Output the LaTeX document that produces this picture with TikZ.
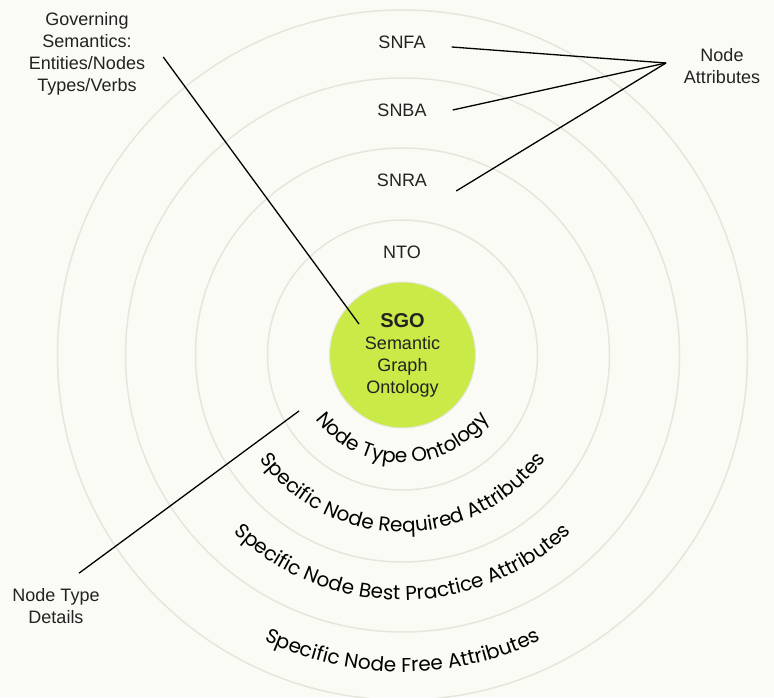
\documentclass[tikz,border=0pt]{standalone}
\usepackage{fontspec}
\setmainfont{Liberation Sans}
\newfontfamily\curvefont{Poppins}
\usetikzlibrary{calc,decorations.text}
\definecolor{paper}{HTML}{FBFBF5}
\definecolor{ringgray}{HTML}{E6E6DE}
\definecolor{limegreen}{HTML}{C9EA47}
\definecolor{inkgray}{HTML}{222222}

\begin{document}
\begin{tikzpicture}[x=1pt, y=1pt,
  ring/.style={draw=ringgray, line width=1.5pt},
  lbl/.style={font=\fontsize{18}{22}\selectfont, text=inkgray, align=center, inner sep=0pt},
  lead/.style={line width=1.3pt, black},
  arctext/.style={decorate, decoration={text along path, text align=center, text={#1}}}]
\fill[paper] (0,0) rectangle (774,697);
\useasboundingbox (0,0) rectangle (774,697);
\coordinate (c) at (402.5,342);
\draw[ring] (c) circle (135pt);
\draw[ring] (c) circle (207pt);
\draw[ring] (c) circle (277pt);
\draw[ring] (c) circle (345pt);
\node[circle, fill=limegreen, draw=ringgray, line width=1pt, minimum size=146pt, inner sep=0pt, lbl] (sgo) at (c) {{\fontsize{20}{22}\selectfont\bfseries SGO}\\Semantic\\Graph\\Ontology};
\node[lbl] (snfa) at (402,655) {SNFA};
\node[lbl] (snba) at (402,587) {SNBA};
\node[lbl] (snra) at (402,517) {SNRA};
\node[lbl] (nto) at (402,445) {NTO};
\node[lbl] (gov) at (87,643) {Governing\\Semantics:\\Entities/Nodes\\Types/Verbs};
\node[lbl] (natt) at (722,631) {Node\\Attributes};
\node[lbl] (ntd) at (56,91) {Node Type\\Details};
\path[arctext={|\curvefont\fontsize{20}{20}\selectfont|Node Type Ontology}] ($(c)+(190:108pt)$) arc[start angle=190, end angle=350, radius=108pt];
\path[arctext={|\curvefont\fontsize{20}{20}\selectfont|Specific Node Required Attributes}] ($(c)+(200:177pt)$) arc[start angle=200, end angle=340, radius=177pt];
\path[arctext={|\curvefont\fontsize{20}{20}\selectfont|Specific Node Best Practice Attributes}] ($(c)+(210:245pt)$) arc[start angle=210, end angle=330, radius=245pt];
\path[arctext={|\curvefont\fontsize{20}{20}\selectfont|Specific Node Free Attributes}] ($(c)+(225:317pt)$) arc[start angle=225, end angle=315, radius=317pt];
\coordinate (govtip) at (359,373);
\coordinate (attpt) at (666,634);
\coordinate (ntdtip) at (299,286);
\draw[lead] ([xshift=18pt,yshift=-3pt]gov.east) -- (govtip);
\draw[lead] ([xshift=26pt,yshift=-5pt]snfa.east) -- (attpt);
\draw[lead] ([xshift=26pt]snba.east) -- (attpt);
\draw[lead] ([xshift=29pt,yshift=-11pt]snra.east) -- (attpt);
\draw[lead] ([xshift=23pt,yshift=15pt]ntd.north) -- (ntdtip);
\end{tikzpicture}
\end{document}
